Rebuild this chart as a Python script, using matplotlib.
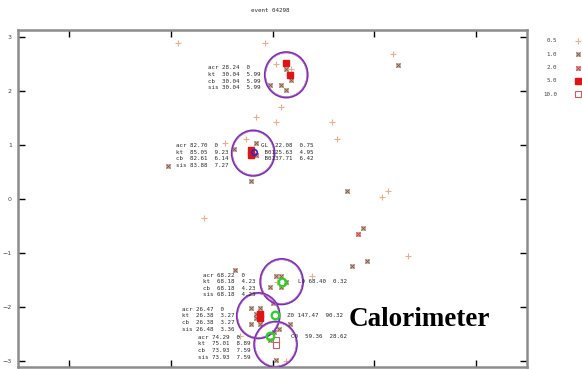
import matplotlib
matplotlib.use("Agg")
import matplotlib.pyplot as plt
from matplotlib.patches import Circle

# --- event content (eta, phi) ---------------------------------------------
title = "event 04298"

# calorimeter towers by energy threshold
et05_eta = [-1.85, -0.14, 0.06, 0.36, 0.17, -0.33, 0.06, 1.16, 1.27, -0.94,
            -0.53, -1.34, 2.37, 2.27, 2.16, 2.66, 0.77, 0.08, -0.63, 0.26]
et05_phi = [2.89, 2.89, 2.50, 2.40, 1.71, 1.51, 1.42, 1.42, 1.12, 1.03,
            1.12, -0.36, 2.69, 0.14, 0.03, -1.05, -1.43, -1.53, -2.54, -3.00]

et1_eta = [0.26, 0.36, -0.04, 0.16, 0.26, -0.33, -0.75, -0.43, -2.05, 2.47,
           1.46, 1.77, 1.86, 1.57, -0.74, 0.06, 0.17, 0.27, -0.05, 0.16,
           0.00, -0.43, -0.24, -0.33, -0.33, -0.43, -0.24, 0.12, 0.03, 0.35,
           -0.05, 0.06]
et1_phi = [2.40, 2.20, 2.11, 2.11, 2.01, 1.03, 0.92, 0.34, 0.62, 2.49,
           0.14, -0.54, -1.14, -1.24, -1.32, -1.42, -1.42, -1.53, -1.62, -1.62,
           -1.92, -2.01, -2.01, -2.12, -2.21, -2.31, -2.31, -2.41, -2.46, -2.31,
           -2.61, -2.98]

et2_eta = [1.67, -0.33]
et2_phi = [-0.65, 0.81]

et5_eta = [0.26, 0.35, -0.43, -0.43, -0.24, -0.24]
et5_phi = [2.51, 2.30, 0.91, 0.81, -2.12, -2.21]

et10_eta = [0.06, 0.06]
et10_phi = [-2.61, -2.71]

# reconstructed objects
lepton_eta = [0.19, 0.05, -0.05]
lepton_phi = [-1.53, -2.15, -2.54]
photon_eta = [-0.37]
photon_phi = [0.88]

# jet cones
jet_eta = [0.27, -0.38, 0.18, -0.28, 0.06]
jet_phi = [2.30, 0.85, -1.53, -2.16, -2.69]
cone_r = 0.42

# jet energy tables: (eta, phi of first row, rows)
jet_tables = [
    (-1.26, 2.43, ["acr 28.24  0", "kt  30.04  5.99", "cb  30.04  5.99", "sis 30.04  5.99"]),
    (-1.89, 0.99, ["acr 82.70  0", "kt  85.05  9.23", "cb  82.61  6.14", "sis 83.88  7.27"]),
    (-1.36, -1.41, ["acr 68.22  0", "kt  68.18  4.23", "cb  68.18  4.23", "sis 68.18  4.23"]),
    (-1.78, -2.04, ["acr 26.47  0", "kt  26.38  3.27", "cb  26.38  3.27", "sis 26.48  3.36"]),
    (-1.46, -2.56, ["acr 74.29  0", "kt  75.01  8.89", "cb  73.93  7.59", "sis 73.93  7.59"]),
]
obj_tables = [
    (-0.22, 0.99, ["GL  22.08  0.75", " B0125.63  4.95", " B0137.71  6.42"]),
    (0.51, -1.53, ["L0 68.40  0.32"]),
    (0.28, -2.15, ["Z0 147.47  90.32"]),
    (0.37, -2.54, ["C0  59.36  28.62"]),
]

legend_labels = ["0.5", "1.0", "2.0", "5.0", "10.0"]

# --- drawing ---------------------------------------------------------------
W, H = 582, 369
fig = plt.figure(figsize=(W / 100, H / 100), dpi=100)
ax = fig.add_axes([18 / W, 2 / H, 509 / W, 337 / H])
ax.set_xlim(-5, 5)
ax.set_ylim(-3.11, 3.13)

for s in ax.spines.values():
    s.set_color("#8c8c8c")
    s.set_linewidth(1.8)
ax.set_xticks([-4, -2, 0, 2, 4])
ax.set_yticks([-3, -2, -1, 0, 1, 2, 3])
ax.tick_params(direction="in", length=5, width=1, color="black",
               top=True, right=True, labelbottom=False,
               labelsize=4.5, labelcolor="#444444", pad=4.5)


def draw_towers(a, x, y, kind):
    if kind == 0:
        a.plot(x, y, "+", ls="none", color="#e8b08a", ms=4.5, mew=0.8)
    elif kind == 1:
        a.plot(x, y, "s", ls="none", mfc="#e0ccc0", mec="#c8aa9a", ms=3.5, mew=0.5)
        a.plot(x, y, "x", ls="none", color="#885848", ms=2.6, mew=0.7)
    elif kind == 2:
        a.plot(x, y, "s", ls="none", mfc="#f4cccc", mec="#da7676", ms=3.5, mew=0.5)
        a.plot(x, y, "x", ls="none", color="#c83838", ms=2.6, mew=0.7)
    elif kind == 3:
        a.plot(x, y, "s", ls="none", color="#e01414", ms=4.2)
    else:
        a.plot(x, y, "s", ls="none", mfc="white", mec="#c46060", ms=4.3, mew=0.8)


draw_towers(ax, et05_eta, et05_phi, 0)
draw_towers(ax, et1_eta, et1_phi, 1)
draw_towers(ax, et2_eta, et2_phi, 2)
draw_towers(ax, et5_eta, et5_phi, 3)
draw_towers(ax, et10_eta, et10_phi, 4)

for e, p in zip(jet_eta, jet_phi):
    ax.add_patch(Circle((e, p), cone_r, fill=False, ec="#7a2cb4", lw=1.4, zorder=4))
    ax.add_patch(Circle((e, p), cone_r - 0.015, fill=False, ec="#c070c8", lw=0.5, zorder=4))

ax.plot(lepton_eta, lepton_phi, "o", ls="none", mfc="none", mec="#22d822",
        ms=5.5, mew=1.6, zorder=5)
ax.plot(photon_eta, photon_phi, "o", ls="none", mfc="none", mec="#2030d0",
        ms=4, mew=1.2, zorder=5)

row_step = 6.6 / 54
for tables in (jet_tables, obj_tables):
    for x0, y0, rows in tables:
        for i, r in enumerate(rows):
            ax.text(x0, y0 - i * row_step, r, family="DejaVu Sans Mono",
                    fontsize=4.2, color="#2a2a2a", ha="left", va="center",
                    zorder=6)

# title and detector label
fig.text(270 / W, 1 - 10 / H, title, family="DejaVu Sans Mono", fontsize=4.2,
         color="#2a2a2a", ha="center", va="center")
fig.text(419 / W, 1 - 320 / H, "Calorimeter", family="Liberation Serif",
         fontweight="bold", fontsize=19.5, color="black",
         ha="center", va="center")

# threshold key on the right
key = fig.add_axes([0, 0, 1, 1], facecolor="none")
key.set_xlim(0, W)
key.set_ylim(H, 0)
key.axis("off")
for i, lab in enumerate(legend_labels):
    yy = 41 + i * 13.3
    key.text(557, yy, lab, family="DejaVu Sans Mono", fontsize=4.2,
             color="#444444", ha="right", va="center")
    draw_towers(key, [578], [yy], i)

fig.savefig("out.png", dpi=100)
